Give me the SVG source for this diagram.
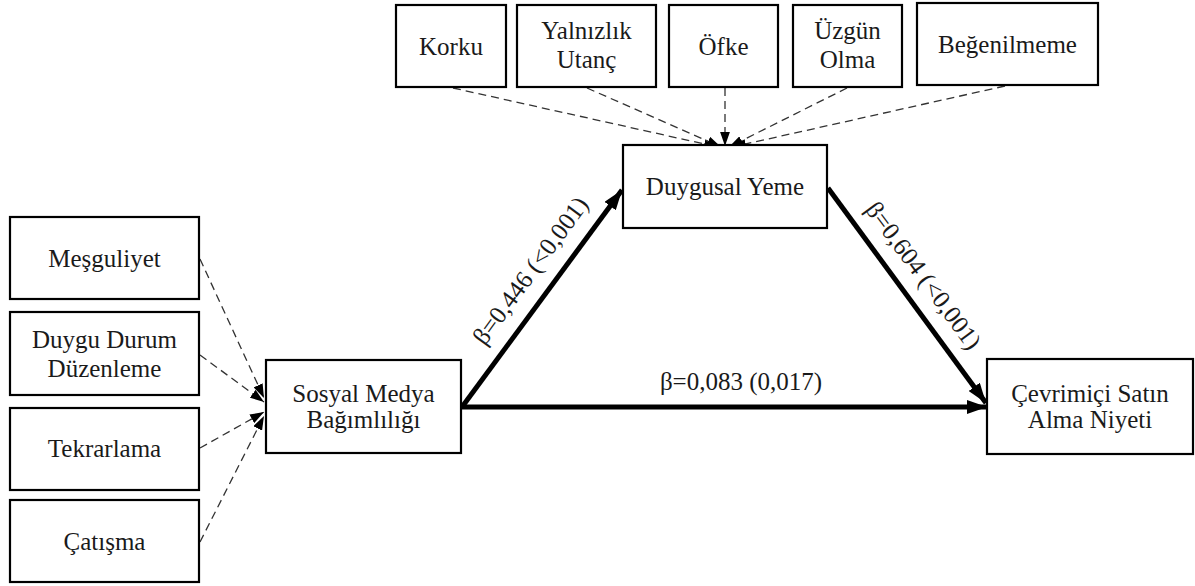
<svg xmlns="http://www.w3.org/2000/svg" width="1195" height="586" viewBox="0 0 1195 586">
<style>
.box{fill:#fff;stroke:#000;stroke-width:2.2}
.d{stroke:#333;stroke-width:1.3;stroke-dasharray:8,5;fill:none}
.k{stroke:#000;stroke-width:5;fill:none}
text{font-family:"Liberation Serif","Times New Roman",serif;font-size:25px;text-anchor:middle;fill:#1a1a1a}
</style>
<defs>
<marker id="ah" markerUnits="userSpaceOnUse" viewBox="0 0 10 7" markerWidth="20" markerHeight="14" refX="10" refY="3.5" orient="auto"><path d="M0,0 L10,3.5 L0,7 z" fill="#000"/></marker>
<marker id="as" markerUnits="userSpaceOnUse" viewBox="0 0 10 7" markerWidth="14" markerHeight="10" refX="10" refY="3.5" orient="auto"><path d="M0,0 L10,3.5 L0,7 z" fill="#000"/></marker>
</defs>
<g id="connectors">
<line class="d" x1="453" y1="88" x2="718" y2="147" marker-end="url(#as)"/>
<line class="d" x1="587" y1="88" x2="721" y2="147" marker-end="url(#as)"/>
<line class="d" x1="725" y1="88" x2="725" y2="146" marker-end="url(#as)"/>
<line class="d" x1="847" y1="88" x2="729" y2="147" marker-end="url(#as)"/>
<line class="d" x1="1005" y1="86" x2="732" y2="147" marker-end="url(#as)"/>
<line class="d" x1="200" y1="259" x2="264" y2="398" marker-end="url(#as)"/>
<line class="d" x1="200" y1="355" x2="264" y2="402" marker-end="url(#as)"/>
<line class="d" x1="200" y1="448" x2="264" y2="412" marker-end="url(#as)"/>
<line class="d" x1="200" y1="542" x2="264" y2="416" marker-end="url(#as)"/>
<line class="k" x1="462" y1="407" x2="622" y2="190" marker-end="url(#ah)"/>
<line class="k" x1="828" y1="188" x2="986" y2="403" marker-end="url(#ah)"/>
<line class="k" x1="462" y1="407" x2="987" y2="407" marker-end="url(#ah)"/>
<text x="741" y="390">β=0,083 (0,017)</text>
<text transform="translate(550,285) rotate(-53.6)" x="0" y="-16">β=0,446 (&lt;0,001)</text>
<text transform="translate(904,290) rotate(53.6)" x="0" y="-16">β=0,604 (&lt;0,001)</text>
</g>
<g id="korku"><rect class="box" x="396" y="5" width="110" height="82"/><text x="451" y="55">Korku</text></g>
<g id="yalnizlik"><rect class="box" x="517" y="5" width="139" height="82"/><text x="586.5" y="39">Yalnızlık</text><text x="586.5" y="68">Utanç</text></g>
<g id="ofke"><rect class="box" x="669" y="5" width="109" height="82"/><text x="723.5" y="55">Öfke</text></g>
<g id="uzgun"><rect class="box" x="793" y="5" width="109" height="82"/><text x="847.5" y="39">Üzgün</text><text x="847.5" y="68">Olma</text></g>
<g id="begenilmeme"><rect class="box" x="917" y="3" width="181" height="82"/><text x="1007.5" y="53">Beğenilmeme</text></g>
<g id="duygusal"><rect class="box" x="623" y="145" width="204" height="83"/><text x="725" y="195">Duygusal Yeme</text></g>
<g id="mesguliyet"><rect class="box" x="10" y="217" width="189" height="82"/><text x="104.5" y="267">Meşguliyet</text></g>
<g id="duygudurum"><rect class="box" x="10" y="312" width="189" height="83"/><text x="104.5" y="348">Duygu Durum</text><text x="104.5" y="377">Düzenleme</text></g>
<g id="tekrarlama"><rect class="box" x="10" y="408" width="189" height="82"/><text x="104.5" y="457">Tekrarlama</text></g>
<g id="catisma"><rect class="box" x="10" y="500" width="189" height="82"/><text x="104.5" y="550">Çatışma</text></g>
<g id="sosyal"><rect class="box" x="266" y="360" width="195" height="93"/><text x="363.5" y="402">Sosyal Medya</text><text x="363.5" y="428">Bağımlılığı</text></g>
<g id="cevrimici"><rect class="box" x="987" y="359" width="206" height="95"/><text x="1090" y="402">Çevrimiçi Satın</text><text x="1090" y="428">Alma Niyeti</text></g>
</svg>
